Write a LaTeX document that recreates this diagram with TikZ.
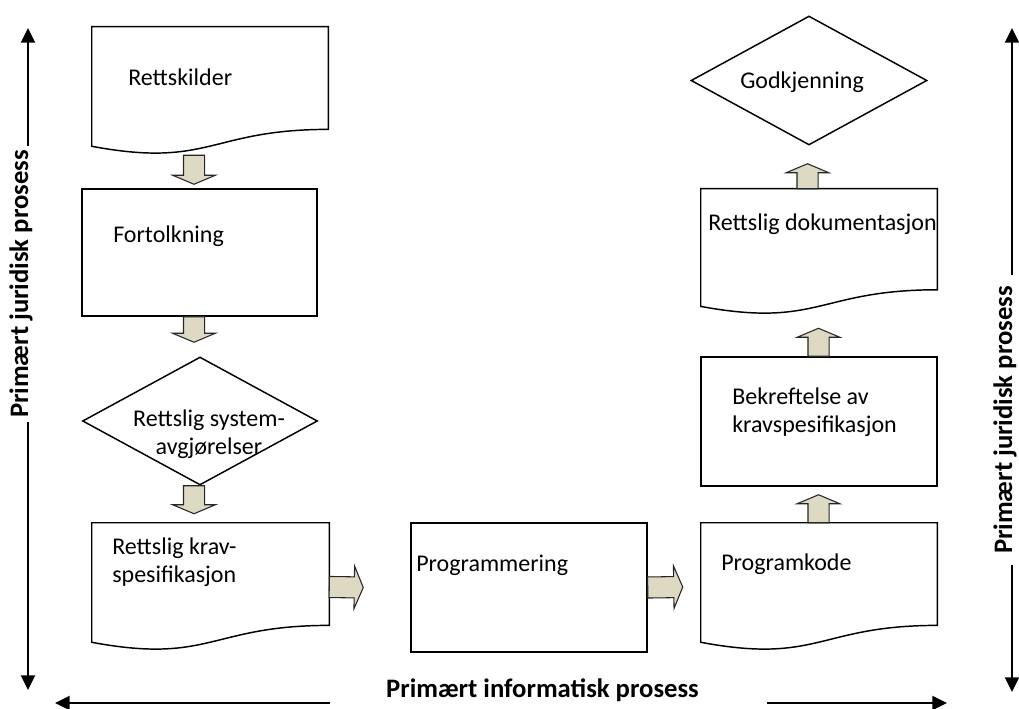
\documentclass[tikz,border=0pt]{standalone}
\usepackage{fontspec}
\setmainfont{Carlito}
\usetikzlibrary{calc,arrows.meta,shapes.geometric,fit}
\definecolor{arrowtan}{HTML}{DDD9C3}
\tikzset{
  shapeline/.style={draw=black, line width=1.1pt, line join=miter},
  box/.style={shapeline, rectangle, inner sep=0pt},
  decision/.style={shapeline, diamond, inner sep=0pt},
  txt/.style={font=\fontsize{18}{21}\selectfont, inner sep=0pt},
  axislabel/.style={font=\bfseries\fontsize{20}{24}\selectfont, inner sep=3pt},
  axisarrow/.style={line width=1.5pt, -{Triangle[width=10.5pt,length=11pt]}},
  blockarrow/.style={draw=black!85, line width=0.8pt, fill=arrowtan, line join=miter},
}
% document symbol: flat top, wavy bottom edge
\newcommand{\docnode}[5]{% name, left, top, right, height
  \node[fit={(#2,#3) (#4,{#3+#5})}, inner sep=0pt] (#1) {};
  \draw[shapeline] (#1.north west) -- (#1.north east)
    -- ($(#1.north east)+(0,{0.802*#5})$)
    .. controls ($(#1.north)+(0,{0.802*#5})$) and ($(#1.north)+(0,{1.107*#5})$)
    .. ($(#1.north west)+(0,{0.934*#5})$) -- cycle;
}
% wide hollow flow arrow from #1 to #2
\newcommand{\flowarrow}[2]{%
  \path #1 coordinate (fa-s) #2 coordinate (fa-t);
  \path ($(fa-t)!6.75pt!(fa-s)$) coordinate (fa-b);
  \draw[blockarrow] ($(fa-s)!7.9pt!90:(fa-t)$) -- ($(fa-b)!7.9pt!90:(fa-t)$)
    -- ($(fa-b)!16pt!90:(fa-t)$) -- (fa-t) -- ($(fa-b)!16pt!-90:(fa-t)$)
    -- ($(fa-b)!7.9pt!-90:(fa-t)$) -- ($(fa-s)!7.9pt!-90:(fa-t)$) -- cycle;
}
\begin{document}
\begin{tikzpicture}[x=0.75pt,y=-0.75pt]
\useasboundingbox (0,0) rectangle (1019,709);

% ---- left column ----
\docnode{rk}{92}{27}{328}{128}
\node[txt, anchor=base west] (rk-t) at (128,86) {Rettskilder};

\node[box, fit={(82,189) (317,316)}] (fo) {};
\node[txt, anchor=base west] (fo-t) at (113,242) {Fortolkning};

\node[decision, minimum width=176.25pt, minimum height=96pt] (rs) at (200,421) {};
\node[txt, align=center, anchor=base] (rs-t) at (209,454) {Rettslig system-\\avgjørelser};

\docnode{kr}{92}{523}{329}{128}
\node[txt, align=left, anchor=base west] (kr-t) at (112,582) {Rettslig krav-\\spesifikasjon};

% ---- middle ----
\node[box, fit={(411,523) (647,652)}] (pg) {};
\node[txt, anchor=base west] (pg-t) at (416,571) {Programmering};

% ---- right column ----
\docnode{pk}{701}{523}{937}{128}
\node[txt, anchor=base west] (pk-t) at (721,570) {Programkode};

\node[box, fit={(701,357) (937,486)}] (bk) {};
\node[txt, align=left, anchor=base west] (bk-t) at (732,432) {Bekreftelse av\\kravspesifikasjon};

\docnode{rd}{701}{189}{937}{126}
\node[txt, anchor=base west] (rd-t) at (708,230) {Rettslig dokumentasjon};

\node[decision, minimum width=177pt, minimum height=96.75pt] (gk) at (809,80.5) {};
\node[txt, anchor=base west] (gk-t) at (740,89) {Godkjenning};

% ---- flow arrows ----
\flowarrow{($(rk.south)+(-16,0)$)}{($(fo.north)+(-5.5,-4)$)}
\flowarrow{($(fo.south)+(-5.5,0)$)}{($(rs.north)+(-6,-14)$)}
\flowarrow{($(rs.south)+(-6,0)$)}{($(kr.north)+(-16.5,-9)$)}
\flowarrow{(kr.east)}{($(pg.west)+(-47,0)$)}
\flowarrow{(pg.east)}{($(pk.west)+(-18,0)$)}
\flowarrow{($(pk.north)+(-0.5,0)$)}{($(bk.south)+(-0.5,8)$)}
\flowarrow{($(bk.north)+(-0.5,0)$)}{($(rd.south)+(-0.5,13)$)}
\flowarrow{($(rd.north)+(-11.5,0)$)}{($(gk.south)+(-1.5,18)$)}

% ---- process axes ----
\node[axislabel, rotate=90, anchor=base] (jl) at (28,284) {Primært juridisk prosess};
\node[axislabel, rotate=90, anchor=base, inner xsep=8pt] (jr) at (1012,420) {Primært juridisk prosess};
\node[axislabel, anchor=base] (il) at (542.5,697) {Primært informatisk prosess};

\coordinate (lt) at (28,28);
\coordinate (lb) at (28,690);
\coordinate (rt) at (1012,28);
\coordinate (rb) at (1012,692);
\coordinate (bl-a) at (330,703);
\coordinate (bl-b) at (55,703);
\coordinate (br-a) at (767,703);
\coordinate (br-b) at (947,703);

\draw[axisarrow] (jl.base east) -- (lt);
\draw[axisarrow] (jl.base west) -- (lb);
\draw[axisarrow] (jr.base east) -- (rt);
\draw[axisarrow] (jr.base west) -- (rb);
\draw[axisarrow] (bl-a) -- (bl-b);
\draw[axisarrow] (br-a) -- (br-b);
\end{tikzpicture}
\end{document}
